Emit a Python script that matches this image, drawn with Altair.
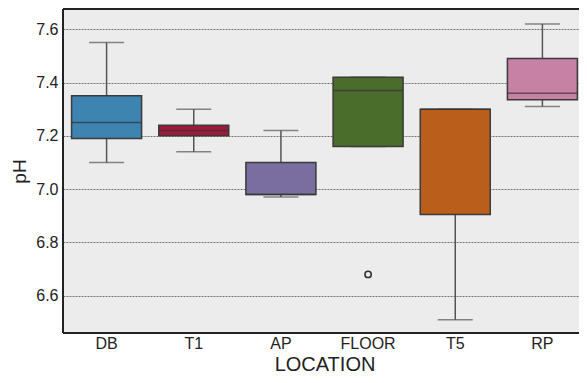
import altair as alt
import pandas as pd

locations = ["DB", "T1", "AP", "FLOOR", "T5", "RP"]
whisker_low = [7.10, 7.14, 6.97, 7.16, 6.51, 7.31]
q1 = [7.19, 7.20, 6.98, 7.16, 6.905, 7.335]
median = [7.25, 7.22, 6.98, 7.37, 7.30, 7.36]
q3 = [7.35, 7.24, 7.10, 7.42, 7.30, 7.49]
whisker_high = [7.55, 7.30, 7.22, 7.42, 7.30, 7.62]
colors = ["#3d84b0", "#9e1a3b", "#7a6ea0", "#4a6d2b", "#b95e1b", "#c681a4"]

outlier_locations = ["FLOOR"]
outlier_values = [6.68]

y_ticks = [6.6, 6.8, 7.0, 7.2, 7.4, 7.6]

df = pd.DataFrame({
    "LOCATION": locations,
    "lo": whisker_low,
    "q1": q1,
    "med": median,
    "q3": q3,
    "hi": whisker_high,
})
out_df = pd.DataFrame({"LOCATION": outlier_locations, "pH": outlier_values})
frame_df = pd.DataFrame({"k": [0]})

FONT = "Liberation Sans"
W = 516
H = 324
XR = 523

x_enc = alt.X(
    "LOCATION:N",
    sort=locations,
    scale=alt.Scale(paddingInner=0, paddingOuter=0, range=[0, XR]),
    axis=alt.Axis(
        title="LOCATION", labelAngle=0, ticks=False, domain=False,
        labelFontSize=16, labelFont=FONT, labelColor="#222",
        labelPadding=2, titleFontSize=20, titleFont=FONT,
        titleFontWeight="normal", titleColor="#222",
        titleX=XR / 2, titleY=37.5, titleAnchor="middle",
        titleBaseline="alphabetic",
    ),
)
y_scale = alt.Scale(domain=[6.460, 7.676], nice=False, zero=False)
y_axis = alt.Axis(
    title="pH", values=y_ticks, format=".1f", ticks=False, domain=False,
    labelFontSize=16, labelFont=FONT, labelColor="#222", labelPadding=5,
    titleFontSize=19, titleFont=FONT, titleFontWeight="normal",
    titleColor="#222", titlePadding=6,
    grid=True, gridColor="#666", gridDash=[2, 1], gridWidth=0.9,
)
color_enc = alt.Color("LOCATION:N", sort=locations,
                      scale=alt.Scale(domain=locations, range=colors),
                      legend=None)

base = alt.Chart(df)

whiskers = base.mark_rule(color="#555555", strokeWidth=1.5).encode(
    x=x_enc,
    y=alt.Y("lo:Q", scale=y_scale, axis=y_axis),
    y2="hi:Q",
)
cap_lo = base.mark_tick(color="#555555", size=35, thickness=1.5).encode(
    x=x_enc, y=alt.Y("lo:Q", scale=y_scale)
)
cap_hi = base.mark_tick(color="#555555", size=35, thickness=1.5).encode(
    x=x_enc, y=alt.Y("hi:Q", scale=y_scale)
)
boxes = base.mark_bar(size=70, stroke="#3a3a3a", strokeWidth=1.5).encode(
    x=x_enc,
    y=alt.Y("q1:Q", scale=y_scale),
    y2="q3:Q",
    color=color_enc,
)
medians = base.mark_tick(color="#333333", size=70, thickness=1.5).encode(
    x=x_enc, y=alt.Y("med:Q", scale=y_scale)
)
outliers = alt.Chart(out_df).mark_point(
    shape="circle", filled=False, color="#333333", size=40, strokeWidth=1.6,
    opacity=1
).encode(
    x=x_enc, y=alt.Y("pH:Q", scale=y_scale)
)

frame = alt.Chart(frame_df)
left_edge = frame.mark_rule(color="#222222", strokeWidth=2).encode(
    x=alt.value(0), y=alt.value(0), y2=alt.value(H)
)
top_edge = frame.mark_rule(color="#222222", strokeWidth=2).encode(
    x=alt.value(0), x2=alt.value(W + 10), y=alt.value(0)
)
bottom_edge = frame.mark_rule(color="#222222", strokeWidth=2).encode(
    x=alt.value(0), x2=alt.value(W + 10), y=alt.value(H)
)

chart = alt.layer(
    whiskers, cap_lo, cap_hi, boxes, medians, outliers,
    left_edge, top_edge, bottom_edge,
).properties(
    width=W,
    height=H,
    autosize=alt.AutoSizeParams(type="none"),
    padding={"left": 55, "top": 1, "right": 0, "bottom": 42},
    background="white",
).configure_view(
    fill="#ececec", stroke=None
)

chart.save("out.html", embed_options={"renderer": "svg", "actions": False})
